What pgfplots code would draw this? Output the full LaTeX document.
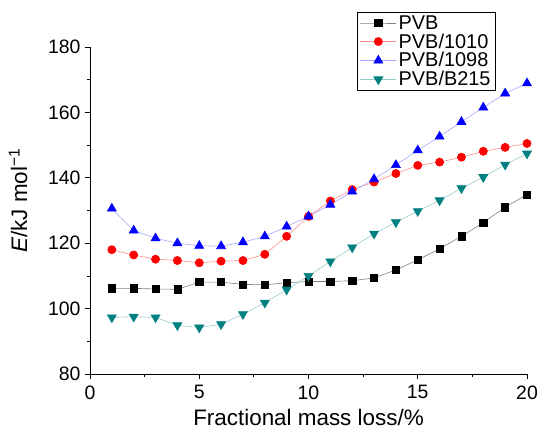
\documentclass[border=0pt]{standalone}
\usepackage{pgfplots}
\pgfplotsset{compat=1.18}
\usepackage{fontspec}
\setmainfont{Liberation Sans}
\definecolor{cteal}{RGB}{0,128,128}
\begin{document}
\begin{tikzpicture}
\begin{axis}[
  name=ax,
  scale only axis,
  width=437bp, height=327bp,
  xmin=0, xmax=20, ymin=80, ymax=180,
  xtick={0,5,10,15,20}, ytick={80,100,120,140,160,180},
  minor x tick num=1, minor y tick num=1,
  axis x line*=bottom, axis y line*=left,
  axis line style={line width=0.8bp},
  tick style={line width=0.8bp, black},
  tick align=outside,
  major tick length=5bp, minor tick length=3bp,
  /pgf/number format/assume math mode=true,
  tick label style={font=\fontsize{19.5}{22}\selectfont},
  xticklabel style={yshift=-3bp},
  yticklabel style={xshift=-1bp},
  label style={font=\fontsize{22.5}{25}\selectfont},
  xlabel={Fractional mass loss/\%},
  xlabel style={yshift=-3.5bp},
  ylabel={\textit{E}/kJ mol\textsuperscript{−1}},
  ylabel style={at={(ticklabel cs:0.53,14bp)}},
  legend style={at={(0.929,1.107)}, anchor=north east, draw=black, line width=0.8bp,
    font=\fontsize{20}{20}\selectfont, inner xsep=3bp, inner ysep=1bp, row sep=-1bp, cells={anchor=west}},
  legend image code/.code={\draw[mark repeat=2,mark phase=2] plot coordinates {(0bp,0bp) (18bp,0bp) (36bp,0bp)};},
]
\addplot[line width=0.6bp, gray, mark=square*, mark size=3.6bp, mark options={fill=black, draw=black}] coordinates {
(1,106.2)(2,106.2)(3,106.0)(4,105.9)(5,108.1)(6,108.1)(7,107.4)(8,107.3)(9,107.9)(10,108.3)
(11,108.3)(12,108.5)(13,109.4)(14,111.8)(15,114.9)(16,118.3)(17,122.1)(18,126.3)(19,131.0)(20,134.9)};
\addlegendentry{PVB}
\addplot[line width=0.6bp, red!45, mark=*, mark size=4.1bp, mark options={fill=red, draw=red}] coordinates {
(1,118.0)(2,116.4)(3,115.1)(4,114.7)(5,114.0)(6,114.5)(7,114.7)(8,116.6)(9,122.1)(10,128.2)
(11,132.9)(12,136.4)(13,138.7)(14,141.3)(15,143.8)(16,144.8)(17,146.3)(18,148.1)(19,149.3)(20,150.5)};
\addlegendentry{PVB/1010}
\addplot[line width=0.6bp, blue!35, mark=triangle*, mark size=5.2bp, mark options={fill=blue, draw=blue}] coordinates {
(1,130.6)(2,123.9)(3,121.5)(4,120.0)(5,119.2)(6,119.1)(7,120.3)(8,122.1)(9,125.1)(10,128.2)
(11,131.8)(12,135.8)(13,139.6)(14,143.9)(15,148.4)(16,152.6)(17,157.1)(18,161.5)(19,165.8)(20,168.9)};
\addlegendentry{PVB/1098}
\addplot[line width=0.6bp, cteal!40, mark=triangle*, mark size=5.2bp, mark options={fill=cteal, draw=cteal, rotate=180}] coordinates {
(1,97.3)(2,97.5)(3,97.3)(4,94.9)(5,94.2)(6,95.2)(7,98.3)(8,101.8)(9,105.8)(10,110.0)
(11,114.4)(12,118.7)(13,122.9)(14,126.4)(15,129.8)(16,133.1)(17,136.8)(18,140.2)(19,144.0)(20,147.4)};
\addlegendentry{PVB/B215}
\end{axis}
\pgfresetboundingbox
\useasboundingbox ([xshift=-90bp,yshift=-57bp]ax.south west) rectangle ([xshift=10bp,yshift=47bp]ax.north east);
\end{tikzpicture}
\end{document}
